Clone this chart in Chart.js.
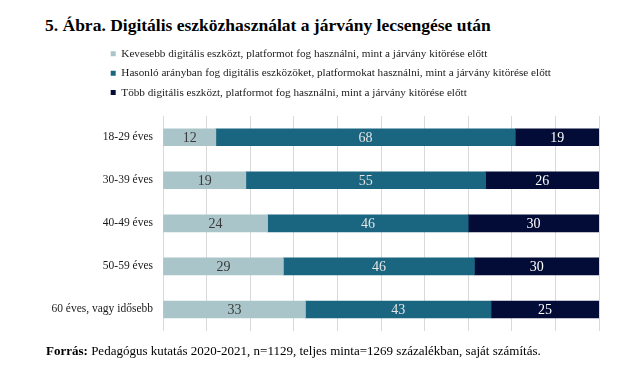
<!DOCTYPE html>
<html lang="hu">

<head>
    <meta charset="UTF-8" />
    <title>5. Ábra</title>
    <script src="https://cdn.jsdelivr.net/npm/chart.js"></script>
    <style>
        body { margin: 0; background: #fff; font-family: "Liberation Serif", serif; }
        .wrap { position: relative; width: 640px; height: 384px; }
        #chart { position: absolute; left: 0; top: 0; }
        .title { position: absolute; left: 45px; top: 15px; font-size: 17.5px; font-weight: bold; color: #000; white-space: nowrap; }
        .source { position: absolute; left: 46px; top: 343px; font-size: 13px; color: #000; white-space: nowrap; }
    </style>
</head>

<body>
    <div class="wrap">
        <div class="title">5. Ábra. Digitális eszközhasználat a járvány lecsengése után</div>
        <canvas id="chart" width="640" height="384"></canvas>
        <div class="source"><b>Forrás:</b> Pedagógus kutatás 2020-2021, n=1129, teljes minta=1269 százalékban, saját számítás.</div>
    </div>

    <script>
        // adatok
        const ageGroups = ['18-29 éves', '30-39 éves', '40-49 éves', '50-59 éves', '60 éves, vagy idősebb'];
        const seriesNames = [
            'Kevesebb digitális eszközt, platformot fog használni, mint a járvány kitörése előtt',
            'Hasonló arányban fog digitális eszközöket, platformokat használni, mint a járvány kitörése előtt',
            'Több digitális eszközt, platformot fog használni, mint a járvány kitörése előtt'
        ];
        const less = [12, 19, 24, 29, 33];
        const same = [68, 55, 46, 46, 43];
        const more = [19, 26, 30, 30, 25];

        const colors = ['#aac5c9', '#1a6680', '#020c36'];
        const labelColors = ['#3a3a3a', '#e4e4e4', '#ffffff'];

        // 100%-ra normált sávok, a feliratok az eredeti számok
        const raw = [less, same, more];
        const totals = ageGroups.map((_, i) => less[i] + same[i] + more[i]);

        const datasets = raw.map((vals, s) => ({
            label: seriesNames[s],
            data: vals.map((v, i) => v / totals[i] * 100),
            rawValues: vals,
            backgroundColor: colors[s],
            barThickness: 17
        }));

        const barLabels = {
            id: 'barLabels',
            afterDatasetsDraw(chart) {
                const ctx = chart.ctx;
                ctx.save();
                ctx.font = '14px "Liberation Serif"';
                ctx.textAlign = 'center';
                ctx.textBaseline = 'middle';
                chart.data.datasets.forEach((ds, s) => {
                    chart.getDatasetMeta(s).data.forEach((bar, i) => {
                        ctx.fillStyle = labelColors[s];
                        ctx.fillText(ds.rawValues[i], (bar.x + bar.base) / 2, bar.y + 1);
                    });
                });
                ctx.restore();
            }
        };

        // a jelmagyarázat jobbra tolása
        const legendShift = {
            id: 'legendShift',
            afterLayout(chart) {
                chart.legend.left += 102.5;
                chart.legend.right += 102.5;
            }
        };

        new Chart(document.getElementById('chart'), {
            type: 'bar',
            data: { labels: ageGroups, datasets: datasets },
            plugins: [barLabels, legendShift],
            options: {
                indexAxis: 'y',
                responsive: false,
                animation: false,
                layout: { padding: { left: 0, top: 40, right: 41, bottom: 53 } },
                plugins: {
                    tooltip: { enabled: false },
                    legend: {
                        position: 'top',
                        align: 'start',
                        labels: {
                            boxWidth: 5,
                            boxHeight: 5,
                            padding: 8.2,
                            color: '#1a1a1a',
                            font: { family: 'Liberation Serif', size: 11.2 }
                        }
                    }
                },
                scales: {
                    x: {
                        position: 'top',
                        stacked: true,
                        min: 0,
                        max: 100,
                        ticks: { display: false, stepSize: 10 },
                        grid: { color: '#d9d9d9', drawTicks: false },
                        border: { display: false },
                        afterFit(scale) { scale.height = 7.5; }
                    },
                    y: {
                        stacked: true,
                        grid: { display: false, drawTicks: false },
                        border: { display: false },
                        ticks: {
                            padding: 10,
                            color: '#1a1a1a',
                            font: { family: 'Liberation Serif', size: 11.5 }
                        },
                        afterFit(scale) { scale.width = 163; }
                    }
                }
            }
        });
    </script>
</body>

</html>
